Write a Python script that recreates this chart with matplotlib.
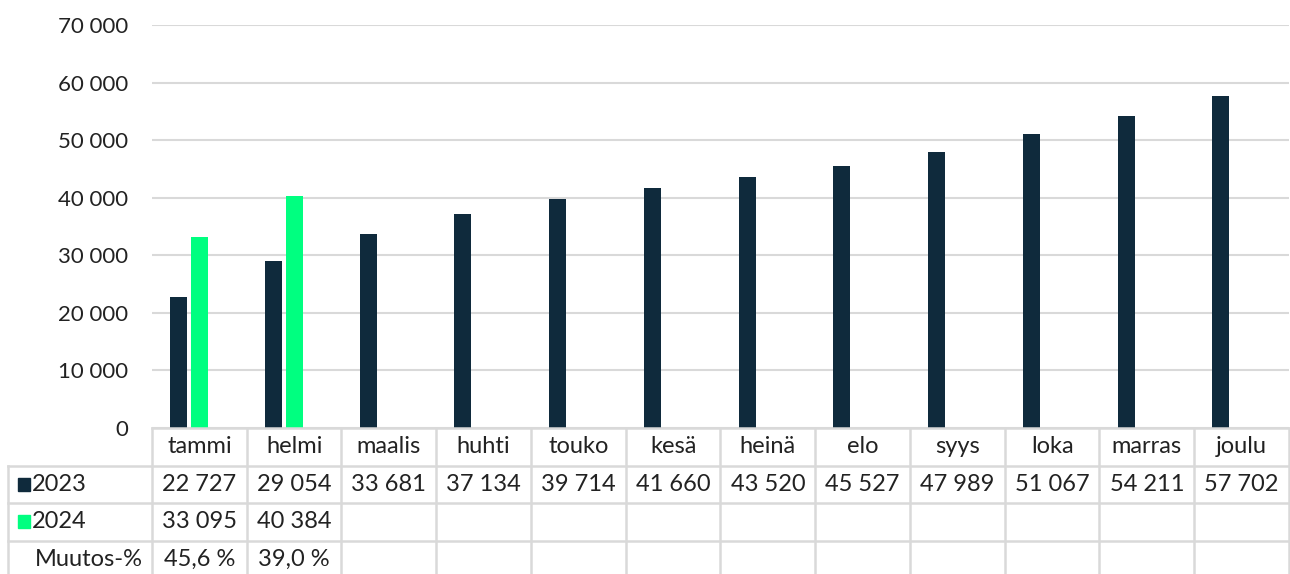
import matplotlib.pyplot as plt
import numpy as np

months = ['tammi', 'helmi', 'maalis', 'huhti', 'touko', 'kesä',
          'heinä', 'elo', 'syys', 'loka', 'marras', 'joulu']
v2023 = [22727, 29054, 33681, 37134, 39714, 41660,
         43520, 45527, 47989, 51067, 54211, 57702]
v2024 = [33095, 40384]
muutos = ['45,6 %', '39,0 %']

c2023 = '#0f2a3c'
c2024 = '#00ff80'
grid_c = '#d9d9d9'

plt.rcParams['font.family'] = ['Lato', 'DejaVu Sans']

W, H = 1290, 574
fig = plt.figure(figsize=(W / 100, H / 100), dpi=100)

# plot area in pixels
x0, x1 = 152, 1289
ytop, ybot = 25, 428
ax = fig.add_axes([x0 / W, 1 - ybot / H, (x1 - x0) / W, (ybot - ytop) / H])

n = len(months)
idx = np.arange(n)
slot = 0.22
bw = 0.18
ax.bar(idx - slot, v2023, bw, color=c2023, zorder=3)
ax.bar(np.arange(len(v2024)), v2024, bw, color=c2024, zorder=3)

ax.set_xlim(-0.5, n - 0.5)
ax.set_ylim(0, 70000)
ax.set_yticks(np.arange(0, 70001, 10000))
ax.set_yticklabels([f'{int(t):,}'.replace(',', ' ') for t in ax.get_yticks()])
ax.tick_params(axis='y', length=0, pad=17, labelsize=16, labelcolor='#222222')
ax.set_xticks([])
ax.grid(axis='y', color=grid_c, lw=1.5, zorder=0)
for s in ax.spines.values():
    s.set_visible(False)

# data table
tx0 = 8
colw = (x1 - x0) / n
left = -0.5 - (x0 - tx0) / colw
tab = fig.add_axes([tx0 / W, 0, (x1 - tx0) / W, (H - ybot) / H])
rowh = 37.5
nrows_vis = (H - ybot) / rowh
tab.set_xlim(left, n - 0.5)
tab.set_ylim(nrows_vis, 0)
tab.axis('off')

lw = 1.8
# horizontal lines
tab.plot([-0.5, n - 0.5], [0, 0], color=grid_c, lw=lw, clip_on=False)
for r in [1, 2, 3]:
    tab.plot([left, n - 0.5], [r, r], color=grid_c, lw=lw, clip_on=False)
# vertical lines
tab.plot([left, left], [1, nrows_vis], color=grid_c, lw=lw, clip_on=False)
for i in range(n + 1):
    tab.plot([i - 0.5, i - 0.5], [0, nrows_vis], color=grid_c, lw=lw, clip_on=False)

fs = 17
tc = '#222222'
for i, m in enumerate(months):
    tab.text(i, 0.5, m, ha='center', va='center', fontsize=fs, color=tc)
    tab.text(i, 1.5, f'{v2023[i]:,}'.replace(',', ' '), ha='center', va='center', fontsize=fs, color=tc)
for i, v in enumerate(v2024):
    tab.text(i, 2.5, f'{v:,}'.replace(',', ' '), ha='center', va='center', fontsize=fs, color=tc)
for i, v in enumerate(muutos):
    tab.text(i, 3.5, v, ha='center', va='center', fontsize=fs, color=tc)

lx = left + 10 / colw
for r, lab, col in [(1.5, '2023', c2023), (2.5, '2024', c2024)]:
    tab.add_patch(plt.Rectangle((lx, r - 0.17), 12 / colw, 0.34, color=col, clip_on=False))
    tab.text(lx + 14 / colw, r, lab, ha='left', va='center', fontsize=fs, color=tc)
tab.text(left + 27 / colw, 3.5, 'Muutos-%', ha='left', va='center', fontsize=fs, color=tc)

fig.savefig('out.png', dpi=100)
